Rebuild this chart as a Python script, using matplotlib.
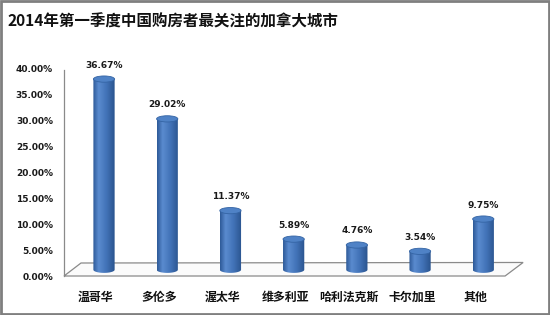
import matplotlib
matplotlib.use('Agg')
import matplotlib.pyplot as plt
import numpy as np
from matplotlib.patches import Ellipse, Polygon, Rectangle, PathPatch
from matplotlib.path import Path
from matplotlib.colors import LinearSegmentedColormap

plt.rcParams['font.family'] = ['Noto Sans CJK SC', 'DejaVu Sans']

title = '2014年第一季度中国购房者最关注的加拿大城市'
cities = ['温哥华', '多伦多', '渥太华', '维多利亚', '哈利法克斯', '卡尔加里', '其他']
shares = [36.67, 29.02, 11.37, 5.89, 4.76, 3.54, 9.75]
yticks = [0, 5, 10, 15, 20, 25, 30, 35, 40]

W, H = 550, 315
fig = plt.figure(figsize=(W / 100, H / 100), dpi=100)
# axes: x from 64px to 525px, y zero at 276px, 40% at 68px
ax = fig.add_axes([64 / W, (H - 276) / H, (525 - 64) / W, 208 / H])
ax.set_xlim(-0.633, 6.66)
ax.set_ylim(0, 40)
for s in ax.spines.values():
    s.set_visible(False)
ax.set_xticks([])
ax.set_yticks(yticks)
ax.set_yticklabels(['%.2f%%' % t for t in yticks], family='DejaVu Sans',
                   fontweight='bold', fontsize=6.5, color='#1a1a1a')
ax.tick_params(axis='y', length=0, pad=8)
ax.patch.set_alpha(0)

# y axis line and floor
ax.plot([-0.633, -0.633], [0, 39.6], color='#8a8a8a', lw=0.9, clip_on=False)
floor = Polygon([(-0.633, 0), (-0.364, 2.5), (6.63, 2.6), (6.345, 0)], closed=True,
                facecolor='#fbfbfb', edgecolor='#8a8a8a', lw=0.9, clip_on=False, zorder=1)
ax.add_patch(floor)

cmap = LinearSegmentedColormap.from_list('cyl', [
    (0.0, '#2d5a98'), (0.25, '#5a8bcf'), (0.6, '#4374b9'), (1.0, '#2a548e')])
off = 1.2      # bar base sits a bit behind the front edge
hw = 0.168     # half width of a cylinder
eh = 1.2       # ellipse height in data units

for i, (c, v) in enumerate(zip(cities, shares)):
    base = off
    top = v + off
    t = np.linspace(np.pi, 2 * np.pi, 40)
    xs = np.concatenate([[i - hw], i + hw * np.cos(t), [i + hw, i - hw]])
    ys = np.concatenate([[top], base + eh / 2 * np.sin(t), [top, top]])
    body = Path(np.column_stack([xs, ys]))
    clip = PathPatch(body, facecolor='none', edgecolor='none', transform=ax.transData)
    ax.add_patch(clip)
    grad = np.linspace(0, 1, 64).reshape(1, -1)
    im = ax.imshow(grad, cmap=cmap, aspect='auto', zorder=3,
                   extent=[i - hw, i + hw, base - eh, top], interpolation='bilinear')
    im.set_clip_path(clip)
    cap = Ellipse((i, top), 2 * hw, eh, facecolor='#4f82c6', edgecolor='#3464a4',
                  lw=0.6, zorder=4)
    ax.add_patch(cap)
    ax.text(i, top + 2.7, '%.2f%%' % v, ha='center', va='center', family='DejaVu Sans',
            fontweight='bold', fontsize=6.5, color='#1a1a1a')
    ax.text(i - 0.13, -4.1, c, ha='center', va='center', fontweight='bold',
            fontsize=8.6, color='#111111', clip_on=False)

ax.set_xlim(-0.633, 6.66)
ax.set_ylim(0, 40)

fig.text(7 / W, 1 - 22 / H, title, ha='left', va='center', fontweight='bold',
         fontsize=11.2, color='#111111')
fig.patches.append(Rectangle((0.002, 0.003), 0.996, 0.994, transform=fig.transFigure,
                             fill=False, edgecolor='#7f7f7f', lw=2))

fig.savefig('out.png', dpi=100)
